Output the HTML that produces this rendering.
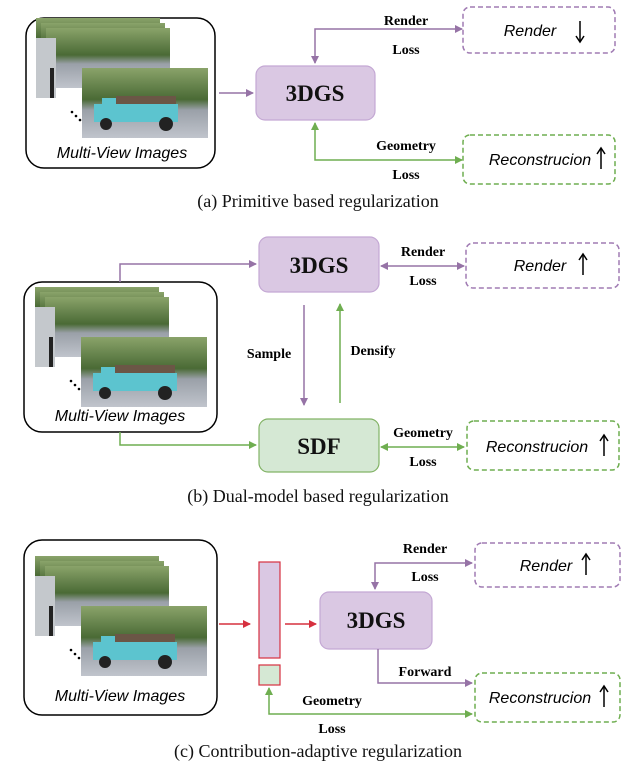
<!DOCTYPE html>
<html><head><meta charset="utf-8"><style>
html,body{margin:0;padding:0;background:#fff;}
svg{display:block}
.lbl{font-family:"Liberation Serif",serif;font-weight:bold;font-size:14px;fill:#000;text-anchor:middle}
.big{font-family:"Liberation Serif",serif;font-weight:bold;font-size:23px;fill:#111;text-anchor:middle}
.it{font-family:"Liberation Sans",sans-serif;font-style:italic;font-size:16px;fill:#000;text-anchor:middle}
.cap{font-family:"Liberation Serif",serif;font-size:18px;fill:#111;text-anchor:middle}
</style></head><body>
<svg width="641" height="782" viewBox="0 0 641 782" xmlns="http://www.w3.org/2000/svg">
<defs>
<marker id="mp" markerWidth="8" markerHeight="8" refX="7" refY="4" orient="auto-start-reverse" markerUnits="userSpaceOnUse"><path d="M0,0 L8,4 L0,8 Z" fill="#9673a6"/></marker>
<marker id="mg" markerWidth="8" markerHeight="8" refX="7" refY="4" orient="auto-start-reverse" markerUnits="userSpaceOnUse"><path d="M0,0 L8,4 L0,8 Z" fill="#6fae50"/></marker>
<marker id="mr" markerWidth="8" markerHeight="8" refX="7" refY="4" orient="auto-start-reverse" markerUnits="userSpaceOnUse"><path d="M0,0 L8,4 L0,8 Z" fill="#d6303f"/></marker>
<linearGradient id="sky" x1="0" y1="0" x2="0" y2="1"><stop offset="0" stop-color="#8aa36a"/><stop offset="0.45" stop-color="#4a6a35"/><stop offset="0.6" stop-color="#9aa0a8"/><stop offset="1" stop-color="#c0c4cc"/></linearGradient>
<g id="up"><line x1="0" y1="-10" x2="0" y2="10" stroke="#000" stroke-width="1.5"/><path d="M-4,-5 L0,-11 L4,-5" fill="none" stroke="#000" stroke-width="1.5"/></g>
<g id="down"><line x1="0" y1="-10" x2="0" y2="10" stroke="#000" stroke-width="1.5"/><path d="M-4,5 L0,11 L4,5" fill="none" stroke="#000" stroke-width="1.5"/></g>
<g id="imgs">
<rect x="0" y="0" width="124" height="44" fill="url(#sky)"/>
<rect x="5" y="5" width="124" height="44" fill="url(#sky)"/>
<rect x="10" y="10" width="124" height="60" fill="url(#sky)"/>
<rect x="0" y="20" width="20" height="60" fill="#c4c8cc"/>
<rect x="14" y="50" width="4" height="30" fill="#222"/>
<rect x="46" y="50" width="126" height="70" fill="url(#sky)"/>
<rect x="80" y="78" width="60" height="20" fill="#6b5646"/>
<rect x="58" y="86" width="84" height="18" fill="#5cc4cf"/>
<rect x="66" y="80" width="14" height="10" fill="#5cc4cf"/>
<circle cx="70" cy="106" r="6" fill="#222"/><circle cx="130" cy="106" r="7" fill="#222"/>
<circle cx="36" cy="94" r="1.3" fill="#000"/><circle cx="40" cy="98" r="1.3" fill="#000"/><circle cx="44" cy="102" r="1.3" fill="#000"/>
</g>
</defs>

<!-- (a) -->
<rect x="26" y="18" width="189" height="150" rx="18" fill="#fff" stroke="#000" stroke-width="1.5"/>
<use href="#imgs" x="36" y="18"/>
<text class="it" x="122" y="158">Multi-View Images</text>
<line x1="219" y1="93" x2="253" y2="93" stroke="#9673a6" stroke-width="1.5" marker-end="url(#mp)"/>
<rect x="256" y="66" width="119" height="54" rx="9" fill="#dac8e3" stroke="#c4a8d4" stroke-width="1.2"/>
<text class="big" x="315" y="101">3DGS</text>
<polyline points="462,29 315,29 315,63" fill="none" stroke="#9673a6" stroke-width="1.5" marker-start="url(#mp)" marker-end="url(#mp)"/>
<text class="lbl" x="406" y="25">Render</text><text class="lbl" x="406" y="54">Loss</text>
<rect x="463" y="7" width="152" height="46" rx="7" fill="#fff" stroke="#a07bb3" stroke-width="1.5" stroke-dasharray="5,3"/>
<text class="it" x="530" y="36">Render</text><use href="#down" x="580" y="31"/>
<polyline points="462,160 315,160 315,123" fill="none" stroke="#6fae50" stroke-width="1.5" marker-start="url(#mg)" marker-end="url(#mg)"/>
<text class="lbl" x="406" y="150">Geometry</text><text class="lbl" x="406" y="179">Loss</text>
<rect x="463" y="135" width="152" height="49" rx="7" fill="#fff" stroke="#6fae50" stroke-width="1.5" stroke-dasharray="5,3"/>
<text class="it" x="540" y="165">Reconstrucion</text><use href="#up" x="601" y="159"/>
<text class="cap" x="318" y="207">(a) Primitive based regularization</text>

<!-- (b) -->
<rect x="24" y="282" width="193" height="150" rx="18" fill="#fff" stroke="#000" stroke-width="1.5"/>
<use href="#imgs" x="35" y="287"/>
<text class="it" x="120" y="421">Multi-View Images</text>
<polyline points="120,282 120,264 256,264" fill="none" stroke="#9673a6" stroke-width="1.5" marker-end="url(#mp)"/>
<rect x="259" y="237" width="120" height="55" rx="9" fill="#dac8e3" stroke="#c4a8d4" stroke-width="1.2"/>
<text class="big" x="319" y="273">3DGS</text>
<line x1="381" y1="266" x2="464" y2="266" stroke="#9673a6" stroke-width="1.5" marker-start="url(#mp)" marker-end="url(#mp)"/>
<text class="lbl" x="423" y="256">Render</text><text class="lbl" x="423" y="285">Loss</text>
<rect x="466" y="243" width="153" height="45" rx="7" fill="#fff" stroke="#a07bb3" stroke-width="1.5" stroke-dasharray="5,3"/>
<text class="it" x="540" y="271">Render</text><use href="#up" x="583" y="265"/>
<line x1="304" y1="305" x2="304" y2="405" stroke="#9673a6" stroke-width="1.5" marker-end="url(#mp)"/>
<line x1="340" y1="403" x2="340" y2="304" stroke="#6fae50" stroke-width="1.5" marker-end="url(#mg)"/>
<text class="lbl" x="269" y="358">Sample</text><text class="lbl" x="373" y="355">Densify</text>
<polyline points="120,432 120,445 256,445" fill="none" stroke="#6fae50" stroke-width="1.5" marker-end="url(#mg)"/>
<rect x="259" y="419" width="120" height="53" rx="9" fill="#d5e8d4" stroke="#82b366" stroke-width="1.2"/>
<text class="big" x="319" y="454">SDF</text>
<line x1="381" y1="447" x2="464" y2="447" stroke="#6fae50" stroke-width="1.5" marker-start="url(#mg)" marker-end="url(#mg)"/>
<text class="lbl" x="423" y="437">Geometry</text><text class="lbl" x="423" y="466">Loss</text>
<rect x="467" y="421" width="152" height="49" rx="7" fill="#fff" stroke="#6fae50" stroke-width="1.5" stroke-dasharray="5,3"/>
<text class="it" x="537" y="452">Reconstrucion</text><use href="#up" x="604" y="446"/>
<text class="cap" x="318" y="502">(b) Dual-model based regularization</text>

<!-- (c) -->
<rect x="24" y="540" width="193" height="175" rx="18" fill="#fff" stroke="#000" stroke-width="1.5"/>
<use href="#imgs" x="35" y="556"/>
<text class="it" x="120" y="701">Multi-View Images</text>
<line x1="219" y1="624" x2="250" y2="624" stroke="#d6303f" stroke-width="1.5" marker-end="url(#mr)"/>
<rect x="259" y="562" width="21" height="96" fill="#dac8e3" stroke="#d6303f" stroke-width="1.2"/>
<rect x="259" y="665" width="21" height="20" fill="#d5e8d4" stroke="#d6303f" stroke-width="1.2"/>
<line x1="285" y1="624" x2="316" y2="624" stroke="#d6303f" stroke-width="1.5" marker-end="url(#mr)"/>
<rect x="320" y="592" width="112" height="57" rx="9" fill="#dac8e3" stroke="#c4a8d4" stroke-width="1.2"/>
<text class="big" x="376" y="628">3DGS</text>
<polyline points="472,563 375,563 375,589" fill="none" stroke="#9673a6" stroke-width="1.5" marker-start="url(#mp)" marker-end="url(#mp)"/>
<text class="lbl" x="425" y="553">Render</text><text class="lbl" x="425" y="581">Loss</text>
<rect x="475" y="543" width="145" height="44" rx="7" fill="#fff" stroke="#a07bb3" stroke-width="1.5" stroke-dasharray="5,3"/>
<text class="it" x="546" y="571">Render</text><use href="#up" x="586" y="565"/>
<polyline points="378,649 378,683 472,683" fill="none" stroke="#9673a6" stroke-width="1.5" marker-end="url(#mp)"/>
<text class="lbl" x="425" y="676">Forward</text>
<polyline points="269,688 269,714 472,714" fill="none" stroke="#6fae50" stroke-width="1.5" marker-start="url(#mg)" marker-end="url(#mg)"/>
<text class="lbl" x="332" y="705">Geometry</text><text class="lbl" x="332" y="733">Loss</text>
<rect x="475" y="673" width="145" height="49" rx="7" fill="#fff" stroke="#6fae50" stroke-width="1.5" stroke-dasharray="5,3"/>
<text class="it" x="540" y="703">Reconstrucion</text><use href="#up" x="604" y="697"/>
<text class="cap" x="318" y="757">(c) Contribution-adaptive regularization</text>
</svg>
</body></html>
